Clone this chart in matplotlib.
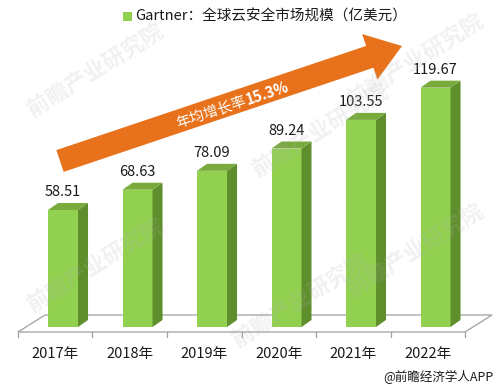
import matplotlib.pyplot as plt
from matplotlib.patches import Polygon, Rectangle
import numpy as np

plt.rcParams['font.family'] = ['Noto Sans CJK SC', 'DejaVu Sans']

years = ['2017年', '2018年', '2019年', '2020年', '2021年', '2022年']
values = [58.51, 68.63, 78.09, 89.24, 103.55, 119.67]
legend_label = 'Gartner：全球云安全市场规模（亿美元）'
growth_label = '年均增长率'
growth_rate = '15.3%'
source = '@前瞻经济学人APP'

fig = plt.figure(figsize=(4.97, 3.9), dpi=100)
ax = fig.add_axes([0, 0, 1, 1])
# 74.5 px per category, 2 px per unit of value
ax.set_xlim(-0.7416, 5.9295)
ax.set_ylim(-31.5, 163.5)
ax.axis('off')

front_c = '#92d050'
side_c = '#5f8f2c'
top_c = '#78aa3c'
dx, dy = 10 / 74.5, 3.5   # depth offset
w = 30 / 74.5

# floor
fx, fy = 27 / 74.5, 8.5
floor = Polygon([(-0.5, -2.5), (5.5, -2.5), (5.5 + fx, -2.5 + fy), (-0.5 + fx, -2.5 + fy)],
                closed=True, facecolor='white', edgecolor='#a0a0a0', lw=0.9, zorder=1)
ax.add_patch(floor)
for i in range(len(years) + 1):
    ax.plot([i - 0.5, i - 0.5], [-2.5, -5.0], color='#a0a0a0', lw=0.9, zorder=1)

for i, (yr, v) in enumerate(zip(years, values)):
    x0 = i - 0.097
    x1 = x0 + w
    ax.add_patch(Rectangle((x0, 0), w, v, facecolor=front_c, edgecolor='none', zorder=3))
    ax.add_patch(Polygon([(x1, 0), (x1 + dx, dy), (x1 + dx, v + dy), (x1, v)],
                         facecolor=side_c, edgecolor='none', zorder=3))
    ax.add_patch(Polygon([(x0, v), (x1, v), (x1 + dx, v + dy), (x0 + dx, v + dy)],
                         facecolor=top_c, edgecolor='none', zorder=3))
    ax.text(x0 + w / 2, v + 5.5, f'{v:.2f}', ha='center', va='bottom',
            fontsize=10.5, color='#1a1a1a', zorder=5)
    ax.text(i, -13.5, yr, ha='center', va='center', fontsize=10.5, color='#1a1a1a')

# overlay in pixel coordinates for decorations
ov = fig.add_axes([0, 0, 1, 1])
ov.set_xlim(0, 497)
ov.set_ylim(390, 0)
ov.axis('off')
ov.patch.set_alpha(0)

# legend
ov.add_patch(Rectangle((123, 12), 9, 9, facecolor=front_c, edgecolor='none'))
ov.text(135, 17, legend_label, ha='left', va='center', fontsize=10.5, color='#1a1a1a')

# growth arrow
tail = np.array([60.0, 161.0])
tip = np.array([402.0, 46.0])
u = (tip - tail) / np.linalg.norm(tip - tail)
n = np.array([-u[1], u[0]])
L = np.linalg.norm(tip - tail)
hw, hhw, hl = 11.5, 24, 34
base = tail + u * (L - hl)
pts = [tail + n * hw, base + n * hw, base + n * hhw, tip,
       base - n * hhw, base - n * hw, tail - n * hw]
ov.add_patch(Polygon(pts, closed=True, facecolor='#e8721c', edgecolor='none', zorder=4))
ang = np.degrees(np.arctan2(-(tip[1] - tail[1]), tip[0] - tail[0]))
mid = tail + u * 196
ov.text(mid[0], mid[1] + 2, growth_label, ha='right', va='center', rotation=ang,
        rotation_mode='anchor', fontsize=10.5, color='white', zorder=5)
ov.text(mid[0], mid[1] + 2, growth_rate, ha='left', va='center', rotation=ang,
        rotation_mode='anchor', fontsize=10.5, color='white', fontweight='bold', zorder=5)

# faint watermarks
for (wx, wy) in [(95, 70), (300, 300), (415, 60), (415, 250), (95, 265), (320, 130)]:
    ov.text(wx, wy, '前瞻产业研究院', ha='center', va='center', rotation=32,
            fontsize=16, color='#b0b0b0', alpha=0.18, fontweight='bold', zorder=6)

ov.text(493, 377, source, ha='right', va='center', fontsize=9, color='#1a1a1a')

fig.savefig('out.png', dpi=100, facecolor='white')
